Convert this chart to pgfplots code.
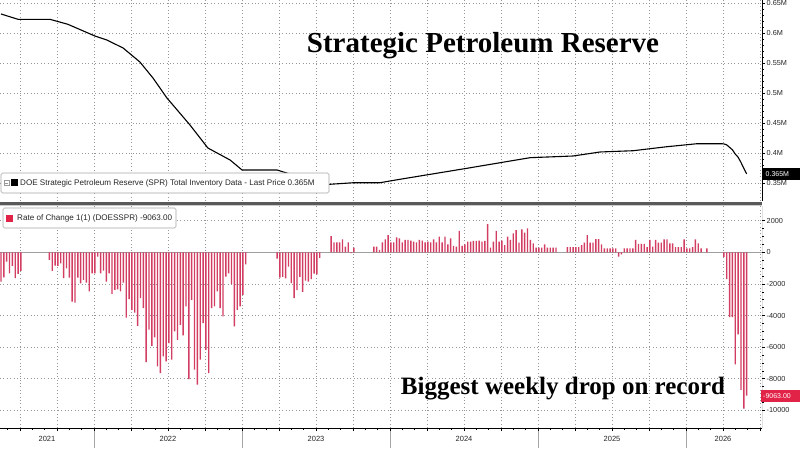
\documentclass[border=0pt]{standalone}
\usepackage{pgfplots}
\pgfplotsset{compat=1.18}
\usepackage{pgfplotstable}
\usepackage{fontspec}
\setmainfont{Liberation Sans}
\newfontfamily\titlefont{Liberation Serif}
\definecolor{barred}{RGB}{210,62,98}
\definecolor{legred}{RGB}{226,35,72}
\definecolor{gridgray}{RGB}{150,150,150}

% weekly rate of change (thousand barrels), w = week index from mid-May 2021
\pgfplotstableread[row sep=\\]{
w v\\
0 -1850\\ 1 -1580\\ 2 -590\\ 3 -1330\\ 4 -860\\ 5 -1640\\ 6 -1370\\ 7 -1180\\
17 -480\\ 18 -1180\\ 19 -840\\ 20 -860\\ 21 -700\\ 22 -1640\\ 23 -1010\\ 24 -1600\\ 25 -3120\\ 26 -3180\\
27 -1600\\ 28 -1960\\ 29 -1750\\ 30 -1920\\ 31 -2480\\ 32 -1330\\ 33 -1330\\ 34 -270\\ 35 -1330\\ 36 -1160\\
37 -1850\\ 38 -1330\\ 39 -2630\\ 40 -2380\\ 41 -2340\\ 42 -2480\\ 43 -1920\\ 44 -4130\\ 45 -2970\\ 46 -3640\\
47 -3810\\ 48 -4650\\ 49 -2900\\ 50 -3540\\ 51 -6950\\ 52 -4900\\ 53 -5920\\ 54 -5390\\ 55 -7220\\ 56 -7640\\
57 -6590\\ 58 -6900\\ 59 -5750\\ 60 -6800\\ 61 -5010\\ 62 -5540\\ 63 -4590\\ 64 -5260\\ 65 -3430\\ 66 -8020\\
67 -3010\\ 68 -7430\\ 69 -8380\\ 70 -6800\\ 71 -4480\\ 72 -6170\\ 73 -7640\\ 74 -3540\\ 75 -3430\\ 76 -2480\\
77 -3540\\ 78 -4060\\ 79 -1540\\ 80 -1330\\ 81 -2020\\ 82 -4690\\ 83 -3640\\ 84 -3430\\ 85 -2690\\ 86 -760\\
97 -400\\ 98 -1600\\ 99 -1550\\ 100 -1650\\ 101 -900\\ 102 -1950\\ 103 -2900\\ 104 -2400\\ 105 -1550\\ 106 -2500\\
107 -1800\\ 108 -1850\\ 109 -1700\\ 110 -1350\\ 111 -1400\\ 112 -350\\
116 1030\\ 117 630\\ 118 630\\ 119 630\\ 120 820\\ 121 360\\ 122 630\\ 123 -60\\ 124 300\\
131 360\\ 132 360\\ 133 150\\ 134 630\\ 135 820\\ 136 1090\\ 137 630\\ 138 630\\ 139 950\\ 140 880\\
141 630\\ 142 780\\ 143 780\\ 144 740\\ 145 680\\ 146 630\\ 147 780\\ 148 740\\ 149 630\\ 150 680\\
151 630\\ 152 820\\ 153 630\\ 154 990\\ 155 630\\ 156 990\\ 157 500\\ 158 880\\ 159 400\\ 160 360\\
161 1350\\ 162 400\\ 163 500\\ 164 680\\ 165 680\\ 166 720\\ 167 720\\ 168 740\\ 169 680\\ 170 720\\
171 1790\\ 172 300\\ 173 680\\ 174 1350\\ 175 680\\
176 740\\ 177 460\\ 178 990\\ 179 780\\ 180 1200\\ 181 1410\\ 182 610\\ 183 1450\\ 184 1240\\ 185 1520\\
186 780\\ 187 570\\ 188 300\\ 189 300\\ 190 300\\ 191 500\\ 192 300\\ 193 300\\ 194 300\\ 195 300\\
199 320\\ 200 320\\ 201 320\\ 202 320\\ 203 320\\ 204 460\\ 205 610\\ 206 1090\\ 207 610\\ 208 610\\
209 840\\ 210 840\\ 211 500\\ 212 250\\ 213 250\\ 214 250\\ 215 250\\ 216 250\\ 217 -270\\ 218 -130\\
219 250\\ 220 250\\ 221 250\\ 222 250\\ 223 780\\ 224 530\\ 225 530\\ 226 530\\ 227 320\\ 228 780\\
229 360\\ 230 780\\ 231 610\\ 232 610\\ 233 820\\ 234 820\\ 235 570\\ 236 570\\ 237 320\\ 238 320\\
239 320\\ 240 820\\ 241 250\\ 242 250\\ 243 320\\ 244 820\\ 245 570\\ 246 250\\ 248 250\\
254 -300\\ 255 -1700\\ 256 -4100\\ 257 -4100\\ 258 -7100\\ 259 -5200\\ 260 -8700\\ 261 -9900\\ 262 -9063\\
}\roc

% SPR total inventory (million barrels), w = week index
\pgfplotstableread[row sep=\\]{
w y\\
0 0.6317\\ 6.0 0.6228\\ 17.2 0.6228\\ 23.5 0.6145\\ 33.0 0.5950\\
37.2 0.5883\\ 42.9 0.5750\\ 48.8 0.5517\\ 53.4 0.5250\\ 58.3 0.4917\\
66.4 0.4467\\ 72.7 0.4083\\ 80.5 0.3883\\ 84.7 0.3717\\ 97.0 0.3717\\
101.5 0.3650\\ 105.4 0.3540\\ 112 0.3465\\ 116 0.3480\\ 124 0.3505\\
133.2 0.3505\\ 140.2 0.3562\\ 163.7 0.3745\\ 185.9 0.3922\\ 201 0.3950\\
210.5 0.4017\\ 222.1 0.4038\\ 234 0.4105\\ 244.6 0.4155\\ 253 0.4155\\
254 0.4152\\ 255 0.4135\\ 256 0.4094\\ 257 0.4053\\ 258 0.3982\\
259 0.3930\\ 260 0.3843\\ 261 0.3744\\ 262 0.3653\\
}\spr

\begin{document}
\begin{tikzpicture}[x=1pt,y=1pt]
\useasboundingbox (0,0) rectangle (800,448);
\pgfplotsset{
  common/.style={
    scale only axis, width=762pt,
    xmin=-0.351, xmax=267.39,
    axis line style={draw=none},
    xtick={6.68,19.68,...,267},
    xmajorgrids, ymajorgrids,
    scaled ticks=false,
    grid style={gridgray, dash pattern=on 0.8pt off 2.6pt, line width=0.6pt},
    ytick pos=right, tick align=outside,
    major tick length=3pt, minor tick length=1.5pt,
    tick style={black, line width=0.5pt},
    yticklabel style={font=\fontsize{7.3}{8}\selectfont, text=black!85, anchor=west, inner sep=1.5pt},
    xticklabels={},
  }
}
% top panel
\begin{axis}[common, at={(0pt,247pt)}, anchor=south west, height=201pt,
  ymin=0.32, ymax=0.655,
  ytick={0.35,0.4,0.45,0.5,0.55,0.6,0.65},
  yticklabels={0.35M,0.4M,0.45M,0.5M,0.55M,0.6M,0.65M},
  minor y tick num=4,
  x tick style={draw=none},
  clip=false]
\addplot[black, line width=1.1pt, line join=round] table[x=w,y=y]{\spr};
\draw[black, line width=0.7pt] (rel axis cs:1,0) -- (rel axis cs:1,1);
\end{axis}
% bottom panel
\begin{axis}[common, at={(0pt,20pt)}, anchor=south west, height=222pt,
  ymin=-11120, ymax=2930,
  ytick={-10000,-8000,-6000,-4000,-2000,0,2000},
  yticklabels={-10000,-8000,-6000,-4000,-2000,0,2000},
  minor y tick num=3,
  xtick pos=bottom,
  minor xtick={2.347,6.68,...,267},
  ybar, bar width=1.4pt, bar shift=0pt]
\draw[gray!75, line width=0.6pt] (axis cs:-0.351,0) -- (axis cs:267.39,0);
\addplot[fill=barred, draw=none] table[x=w, y=v]{\roc};
\draw[black, line width=0.7pt] (rel axis cs:1,0) -- (rel axis cs:1,1);
\draw[black, line width=0.7pt] (rel axis cs:0,0) -- (rel axis cs:1,0);
\end{axis}

% separator between panels
\draw[gray!40, line width=1.5pt] (0,242.6) -- (762,242.6);
\draw[black!65, line width=2.6pt] (0,244.6) -- (762,244.6);

% year labels
\foreach \xx/\lab in {47/2021,168/2022,316/2023,464/2024,612/2025,723/2026}
  \node[font=\fontsize{7.5}{8}\selectfont, text=black!85] at (\xx,9) {\lab};
\foreach \xx in {94,242,390,538,686}
  \draw[gray!70, line width=0.6pt] (\xx,0) -- (\xx,17);

% legend boxes
\draw[gray!70, fill=white, rounded corners=1.5pt, line width=0.6pt] (1,255) rectangle (329,275);
\draw[gray!80, line width=0.4pt] (4,262.5) rectangle (9,267.5);
\draw[gray!80, line width=0.4pt] (5,265) -- (8,265);
\fill[black] (11,262) rectangle (18,269);
\node[anchor=west, inner sep=0pt, font=\fontsize{8.1}{9}\selectfont, text=black!85] at (20,265)
  {DOE Strategic Petroleum Reserve (SPR) Total Inventory Data - Last Price 0.365M};

\draw[gray!70, fill=white, rounded corners=1.5pt, line width=0.6pt] (3,220) rectangle (176,240);
\fill[legred] (6,226.5) rectangle (13,233.5);
\node[anchor=west, inner sep=0pt, font=\fontsize{8.1}{9}\selectfont, text=black!85] at (17,230)
  {Rate of Change 1(1) (DOESSPR) -9063.00};

% last value tags
\fill[black] (763,268) rectangle (800,280);
\node[anchor=west, inner sep=0pt, text=white, font=\fontsize{7}{8}\selectfont] at (765.5,274) {0.365M};
\fill[legred] (761,46) rectangle (800,58);
\node[anchor=west, inner sep=0pt, text=white, font=\fontsize{7}{8}\selectfont] at (763,52) {-9063.00};

% titles
\node[anchor=base, font=\titlefont\bfseries\fontsize{29}{32}\selectfont, text=black] at (483,395) {Strategic Petroleum Reserve};
\node[anchor=base, font=\titlefont\bfseries\fontsize{25}{28}\selectfont, text=black] at (563,54) {Biggest weekly drop on record};
\end{tikzpicture}
\end{document}
